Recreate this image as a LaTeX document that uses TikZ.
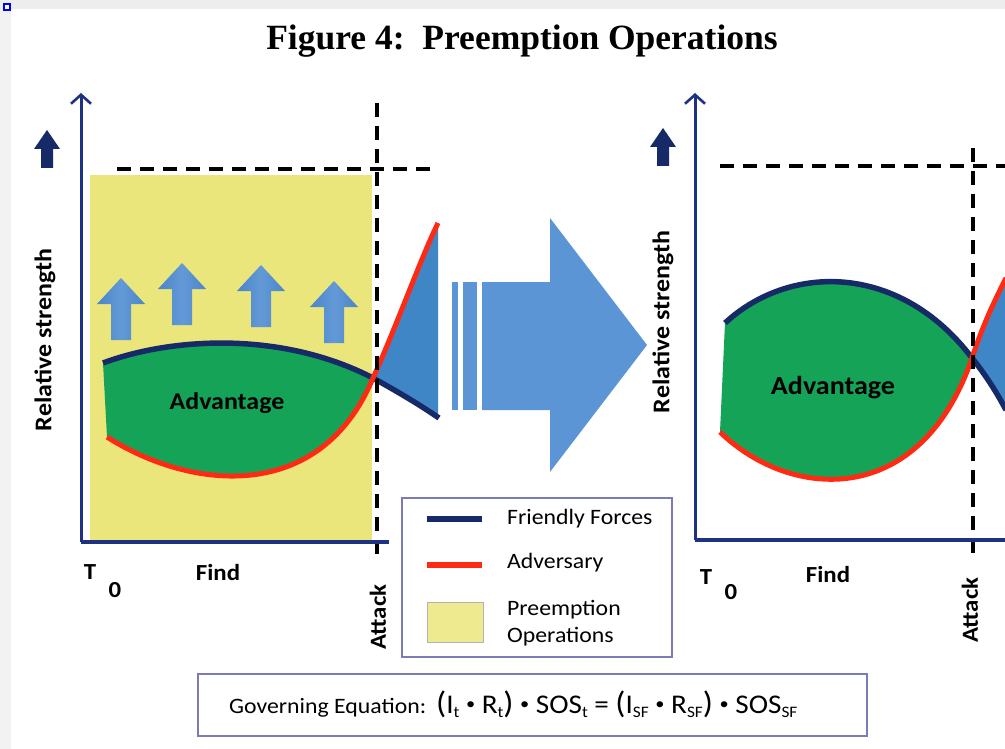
\documentclass[tikz,border=0pt]{standalone}
\usepackage{fontspec}
\setmainfont{Carlito}[FakeStretch=1.08]
\newfontfamily\titlefont{Liberation Serif}
\usetikzlibrary{arrows.meta}

\definecolor{axisnavy}{HTML}{1E3282}
\definecolor{curvenavy}{HTML}{162A68}
\definecolor{advred}{HTML}{FF2A14}
\definecolor{advgreen}{HTML}{15A457}
\definecolor{lossblue}{HTML}{3F86C6}
\definecolor{preyellow}{HTML}{EAE67C}
\definecolor{bigblue}{HTML}{5B95D6}
\definecolor{liftblue}{HTML}{4886CB}
\definecolor{liftlight}{HTML}{6499D6}
\definecolor{boxline}{HTML}{7C7BB8}

\newcommand\fsz[1]{\fontsize{#1}{#1}\selectfont}
\newcommand\lowidx[1]{\raisebox{-0.35ex}{\fontsize{16}{16}\selectfont #1}}
\newcommand\bigparen[1]{{\fontsize{31}{31}\selectfont #1}}
\newcommand\dotop{\raisebox{0.25ex}{\fontsize{17}{17}\selectfont •}}

\begin{document}
\begin{tikzpicture}[x=1pt,y=-1pt,
  axisline/.style={axisnavy,line width=3pt,-{Straight Barb[length=9pt,width=20pt,line width=2.6pt]}},
  baseline/.style={axisnavy,line width=3.5pt},
  friendly/.style={curvenavy,line width=5.5pt},
  adversary/.style={advred,line width=5pt},
  guide/.style={black,line width=3.2pt,dash pattern=on 14pt off 9pt},
  label/.style={font=\fsz{23}\bfseries,inner sep=0pt},
  bigword/.style={font=\fsz{24}\bfseries,inner sep=0pt},
  legendtext/.style={font=\fsz{22},inner sep=0pt,anchor=west},
  liftarrow/.pic={\path[left color=liftblue,right color=liftblue,middle color=liftlight]
      (-10,0) -- (-10,-36) -- (-24,-36) -- (0,-62) -- (24,-36) -- (10,-36) -- (10,0) -- cycle;},
  markarrow/.pic={\fill[curvenavy]
      (-6,0) -- (-6,-19) -- (-13,-19) -- (0,-38) -- (13,-19) -- (6,-19) -- (6,0) -- cycle;}
]
\useasboundingbox (0,0) rectangle (1005,749);

% page background with the thin grey frame strips
\fill[white] (0,0) rectangle (1005,749);
\fill[gray!14] (0,0) rectangle (1005,9);
\fill[gray!10] (0,9) rectangle (11,749);
\draw[blue,line width=1.5pt,fill=white] (4,4) rectangle (10,10);

% title
\node[inner sep=0pt] (title) at (522,41) {\titlefont\bfseries\fsz{35.5}Figure 4:\ \ Preemption Operations};

% ---------------- left chart ----------------
\fill[preyellow] (90,175) rectangle (372,540);

\pic at (121,340) {liftarrow};
\pic at (182,325) {liftarrow};
\pic at (261,327) {liftarrow};
\pic at (334,343) {liftarrow};

% advantage region (friendly above adversary)
\fill[advgreen] (103,363) .. controls (170,338) and (280,330) .. (373,378)
  .. controls (320,505) and (190,490) .. (107,437) -- cycle;
% adversary overtakes after the crossing
\fill[lossblue] (373,378) .. controls (395,330) and (420,260) .. (438,223)
  -- (438,418) .. controls (420,405) and (400,393) .. (373,378) -- cycle;

\draw[friendly] (103,363) .. controls (170,338) and (280,330) .. (373,378)
  .. controls (400,393) and (420,405) .. (439,418);
\draw[adversary] (107,437) .. controls (190,490) and (320,505) .. (373,378)
  .. controls (395,330) and (420,260) .. (438,223);

\coordinate (lhA) at (117,169);
\coordinate (lhB) at (437,169);
\coordinate (lvA) at (377,103);
\coordinate (lvB) at (377,562);
\draw[guide] (lhA) -- (lhB);
\draw[guide] (lvA) -- (lvB);

\coordinate (lorigin) at (81,542);
\coordinate (ltop) at (81,93);
\coordinate (lend) at (389,542);
\draw[baseline] (lorigin) -- (lend);
\draw[axisline] (lorigin) -- (ltop);

\pic at (47,168) {markarrow};

\node[label,font=\fsz{24}\bfseries,rotate=90] (lrel) at (45,340) {Relative strength};
\node[bigword] (ladv) at (227,403) {Advantage};
\node[label] (lT) at (90,572) {T};
\node[label] (l0) at (115,590) {0};
\node[label] (lfind) at (218,573) {Find};
\node[label,rotate=90] (latt) at (378,617) {Attack};

% ---------------- transition arrow ----------------
\fill[bigblue] (482,282) -- (550,282) -- (550,218) -- (647,345) -- (550,472)
  -- (550,410) -- (482,410) -- cycle;
\fill[bigblue] (452,282) rectangle (458,410);
\fill[bigblue] (463,282) rectangle (477,410);

% ---------------- legend ----------------
\node[draw=boxline,line width=1.5pt,fill=white,minimum width=270pt,minimum height=159pt,
  inner sep=0pt,anchor=north west] (legend) at (401,497) {};
\coordinate (kfA) at (427,519);
\coordinate (kfB) at (482,519);
\coordinate (kaA) at (427,565);
\coordinate (kaB) at (482,565);
\draw[curvenavy,line width=6pt] (kfA) -- (kfB);
\draw[advred,line width=6pt] (kaA) -- (kaB);
\node[draw=gray!60,line width=1pt,fill=preyellow!85!white,minimum width=56pt,minimum height=40pt,
  inner sep=0pt] (kpre) at (455,622) {};
\node[legendtext] (kft) at (507,519) {Friendly Forces};
\node[legendtext] (kat) at (507,563) {Adversary};
\node[legendtext,align=left] (kpt) at (507,623) {Preemption\\[5pt]Operations};

% ---------------- right chart ----------------
\begin{scope}
\clip (680,80) rectangle (1005,700);
\fill[advgreen] (725,323) .. controls (790,263) and (900,263) .. (972,358)
  .. controls (920,510) and (790,500) .. (720,432) -- cycle;
\fill[lossblue] (972,358) .. controls (984,322) and (995,300) .. (1006,278)
  -- (1006,410) .. controls (998,395) and (988,378) .. (972,358) -- cycle;
\draw[friendly] (725,323) .. controls (790,263) and (900,263) .. (972,358)
  .. controls (988,378) and (998,395) .. (1006,410);
\draw[adversary] (720,432) .. controls (790,500) and (920,510) .. (972,358)
  .. controls (984,322) and (995,300) .. (1006,278);

\coordinate (rhA) at (720,166);
\coordinate (rhB) at (1005,166);
\coordinate (rvA) at (973,148);
\coordinate (rvB) at (973,555);
\draw[guide] (rhA) -- (rhB);
\draw[guide] (rvA) -- (rvB);

\coordinate (rorigin) at (695,540);
\coordinate (rtop) at (695,93);
\coordinate (rend) at (1010,540);
\draw[baseline] (rorigin) -- (rend);
\draw[axisline] (rorigin) -- (rtop);
\end{scope}

\pic at (663,166) {markarrow};

\node[label,font=\fsz{24}\bfseries,rotate=90] (rrel) at (663,322) {Relative strength};
\node[bigword,font=\fsz{26}\bfseries] (radv) at (833,388) {Advantage};
\node[label] (rT) at (706,577) {T};
\node[label] (r0) at (731,592) {0};
\node[label] (rfind) at (828,575) {Find};
\node[label,rotate=90] (ratt) at (970,610) {Attack};

% ---------------- governing equation ----------------
\node[draw=boxline,line width=1.5pt,fill=white,minimum width=669pt,minimum height=62pt,
  inner sep=0pt,anchor=north west] (eqbox) at (197,673) {};
\node[inner sep=0pt,anchor=west] (eqtext) at (229,704)
  {\fsz{22}Governing Equation:\hspace{10pt}\fsz{27}\bigparen{(}I\lowidx{t} \dotop{} R\lowidx{t}\bigparen{)} \dotop{} SOS\lowidx{t} = \bigparen{(}I\lowidx{SF} \dotop{} R\lowidx{SF}\bigparen{)} \dotop{} SOS\lowidx{SF}};

\end{tikzpicture}
\end{document}
